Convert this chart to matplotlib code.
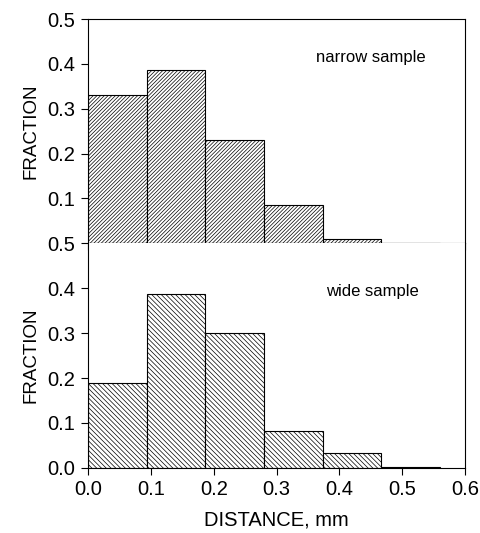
import numpy as np
import matplotlib.pyplot as plt
from matplotlib.ticker import FixedLocator, FixedFormatter

plt.rcParams['font.family'] = ['Liberation Sans', 'DejaVu Sans']
plt.rcParams['hatch.linewidth'] = 0.5
plt.rcParams['hatch.color'] = '#333333'

# histogram data
bin_edges = [0.0, 0.0933, 0.1867, 0.28, 0.3733, 0.4667, 0.56]
narrow = [0.331, 0.387, 0.230, 0.085, 0.008, 0.001]
wide = [0.190, 0.386, 0.300, 0.083, 0.033, 0.002]
top_ytick_labels = ['0.5', '0.1', '0.2', '0.3', '0.4', '0.5']
bottom_ytick_labels = ['0.0', '0.1', '0.2', '0.3', '0.4']
xtick_labels = ['0.0', '0.1', '0.2', '0.3', '0.4', '0.5', '0.6']

fig = plt.figure(figsize=(4.81, 5.33), dpi=100)
ax1 = fig.add_axes([0.183, 0.544, 0.784, 0.420])
ax2 = fig.add_axes([0.183, 0.122, 0.784, 0.422])

lefts = np.array(bin_edges[:-1])
widths = np.diff(bin_edges)

ax1.bar(lefts, narrow, width=widths, align='edge', facecolor='white',
        edgecolor='black', linewidth=0.8, hatch='/////////')
ax2.bar(lefts, wide, width=widths, align='edge', facecolor='white',
        edgecolor='black', linewidth=0.8, hatch='\\\\\\\\\\\\\\')

for ax in (ax1, ax2):
    ax.set_xlim(0, 0.6)
    ax.set_ylim(0, 0.5)
    ax.xaxis.set_major_locator(FixedLocator(np.arange(0, 0.61, 0.1)))
    ax.tick_params(direction='out', length=5, width=0.8, labelsize=14.5, pad=4)
    for s in ax.spines.values():
        s.set_linewidth(0.8)
    ax.set_ylabel('FRACTION', fontsize=13.5, labelpad=6)

ax1.yaxis.set_major_locator(FixedLocator(np.arange(0, 0.51, 0.1)))
ax1.yaxis.set_major_formatter(FixedFormatter(top_ytick_labels))
ax1.tick_params(axis='x', labelbottom=False)

ax2.yaxis.set_major_locator(FixedLocator(np.arange(0, 0.41, 0.1)))
ax2.yaxis.set_major_formatter(FixedFormatter(bottom_ytick_labels))
ax2.xaxis.set_major_formatter(FixedFormatter(xtick_labels))
ax2.spines['top'].set_visible(False)
ax2.set_xlabel('DISTANCE, mm', fontsize=14.5, labelpad=8)

ax1.text(0.605, 0.81, 'narrow sample', transform=ax1.transAxes, fontsize=12)
ax2.text(0.63, 0.765, 'wide sample', transform=ax2.transAxes, fontsize=12)

fig.savefig('out.png', dpi=100)
